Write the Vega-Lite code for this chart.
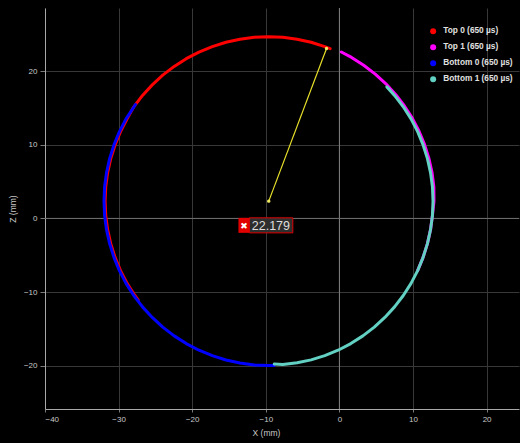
{
  "$schema": "https://vega.github.io/schema/vega-lite/v6.json",
  "width": 474,
  "height": 401,
  "autosize": {"type": "none"},
  "padding": {"left": 45, "top": 8, "right": 1, "bottom": 34},
  "background": "#000000",
  "datasets": {
    "pts": [
      {"s": "Top 0 (650 µs)", "a": 68, "x": -1.26, "y": 23.07},
      {"s": "Top 0 (650 µs)", "a": 70, "x": -1.99, "y": 23.35},
      {"s": "Top 0 (650 µs)", "a": 75, "x": -3.85, "y": 23.94},
      {"s": "Top 0 (650 µs)", "a": 80, "x": -5.75, "y": 24.36},
      {"s": "Top 0 (650 µs)", "a": 85, "x": -7.68, "y": 24.62},
      {"s": "Top 0 (650 µs)", "a": 90, "x": -9.63, "y": 24.70},
      {"s": "Top 0 (650 µs)", "a": 95, "x": -11.58, "y": 24.62},
      {"s": "Top 0 (650 µs)", "a": 100, "x": -13.51, "y": 24.36},
      {"s": "Top 0 (650 µs)", "a": 105, "x": -15.41, "y": 23.94},
      {"s": "Top 0 (650 µs)", "a": 110, "x": -17.27, "y": 23.35},
      {"s": "Top 0 (650 µs)", "a": 115, "x": -19.08, "y": 22.61},
      {"s": "Top 0 (650 µs)", "a": 120, "x": -20.81, "y": 21.71},
      {"s": "Top 0 (650 µs)", "a": 125, "x": -22.45, "y": 20.66},
      {"s": "Top 0 (650 µs)", "a": 130, "x": -24.00, "y": 19.47},
      {"s": "Top 0 (650 µs)", "a": 135, "x": -25.43, "y": 18.15},
      {"s": "Top 0 (650 µs)", "a": 140, "x": -26.75, "y": 16.72},
      {"s": "Top 0 (650 µs)", "a": 145, "x": -27.94, "y": 15.17},
      {"s": "Top 0 (650 µs)", "a": 150, "x": -28.84, "y": 13.53},
      {"s": "Top 0 (650 µs)", "a": 155, "x": -29.74, "y": 11.80},
      {"s": "Top 0 (650 µs)", "a": 160, "x": -30.48, "y": 9.99},
      {"s": "Top 0 (650 µs)", "a": 165, "x": -31.07, "y": 8.13},
      {"s": "Top 0 (650 µs)", "a": 170, "x": -31.49, "y": 6.23},
      {"s": "Top 0 (650 µs)", "a": 175, "x": -31.75, "y": 4.30},
      {"s": "Top 0 (650 µs)", "a": 180, "x": -31.83, "y": 2.35},
      {"s": "Top 0 (650 µs)", "a": 185, "x": -31.75, "y": 0.40},
      {"s": "Top 0 (650 µs)", "a": 190, "x": -31.49, "y": -1.53},
      {"s": "Top 0 (650 µs)", "a": 195, "x": -31.07, "y": -3.43},
      {"s": "Top 0 (650 µs)", "a": 200, "x": -30.48, "y": -5.29},
      {"s": "Top 0 (650 µs)", "a": 205, "x": -29.74, "y": -7.10},
      {"s": "Top 0 (650 µs)", "a": 210, "x": -28.84, "y": -8.83},
      {"s": "Top 0 (650 µs)", "a": 215, "x": -27.79, "y": -10.47},
      {"s": "Top 0 (650 µs)", "a": 217, "x": -27.33, "y": -11.10},
      {"s": "Top 1 (650 µs)", "a": 64, "x": 0.26, "y": 22.62},
      {"s": "Top 1 (650 µs)", "a": 60, "x": 1.65, "y": 21.88},
      {"s": "Top 1 (650 µs)", "a": 55, "x": 3.30, "y": 20.82},
      {"s": "Top 1 (650 µs)", "a": 50, "x": 4.87, "y": 19.62},
      {"s": "Top 1 (650 µs)", "a": 45, "x": 6.32, "y": 18.30},
      {"s": "Top 1 (650 µs)", "a": 40, "x": 7.64, "y": 16.85},
      {"s": "Top 1 (650 µs)", "a": 35, "x": 8.84, "y": 15.28},
      {"s": "Top 1 (650 µs)", "a": 30, "x": 9.90, "y": 13.63},
      {"s": "Top 1 (650 µs)", "a": 25, "x": 10.81, "y": 11.88},
      {"s": "Top 1 (650 µs)", "a": 20, "x": 11.56, "y": 10.06},
      {"s": "Top 1 (650 µs)", "a": 15, "x": 12.15, "y": 8.19},
      {"s": "Top 1 (650 µs)", "a": 10, "x": 12.58, "y": 6.27},
      {"s": "Top 1 (650 µs)", "a": 5, "x": 12.83, "y": 4.32},
      {"s": "Top 1 (650 µs)", "a": 0, "x": 12.85, "y": 2.35},
      {"s": "Top 1 (650 µs)", "a": -5, "x": 12.64, "y": 0.40},
      {"s": "Top 1 (650 µs)", "a": -10, "x": 12.38, "y": -1.53},
      {"s": "Top 1 (650 µs)", "a": -15, "x": 11.96, "y": -3.43},
      {"s": "Top 1 (650 µs)", "a": -20, "x": 11.37, "y": -5.29},
      {"s": "Top 1 (650 µs)", "a": -25, "x": 10.63, "y": -7.10},
      {"s": "Bottom 0 (650 µs)", "a": 144, "x": -27.71, "y": 15.49},
      {"s": "Bottom 0 (650 µs)", "a": 150, "x": -28.99, "y": 13.53},
      {"s": "Bottom 0 (650 µs)", "a": 155, "x": -29.89, "y": 11.80},
      {"s": "Bottom 0 (650 µs)", "a": 160, "x": -30.63, "y": 9.99},
      {"s": "Bottom 0 (650 µs)", "a": 165, "x": -31.22, "y": 8.13},
      {"s": "Bottom 0 (650 µs)", "a": 170, "x": -31.64, "y": 6.23},
      {"s": "Bottom 0 (650 µs)", "a": 175, "x": -31.90, "y": 4.30},
      {"s": "Bottom 0 (650 µs)", "a": 180, "x": -31.98, "y": 2.35},
      {"s": "Bottom 0 (650 µs)", "a": 185, "x": -31.90, "y": 0.40},
      {"s": "Bottom 0 (650 µs)", "a": 190, "x": -31.64, "y": -1.53},
      {"s": "Bottom 0 (650 µs)", "a": 195, "x": -31.22, "y": -3.43},
      {"s": "Bottom 0 (650 µs)", "a": 200, "x": -30.63, "y": -5.29},
      {"s": "Bottom 0 (650 µs)", "a": 205, "x": -29.89, "y": -7.10},
      {"s": "Bottom 0 (650 µs)", "a": 210, "x": -28.99, "y": -8.83},
      {"s": "Bottom 0 (650 µs)", "a": 215, "x": -27.94, "y": -10.47},
      {"s": "Bottom 0 (650 µs)", "a": 220, "x": -26.75, "y": -12.02},
      {"s": "Bottom 0 (650 µs)", "a": 225, "x": -25.43, "y": -13.45},
      {"s": "Bottom 0 (650 µs)", "a": 230, "x": -24.00, "y": -14.77},
      {"s": "Bottom 0 (650 µs)", "a": 235, "x": -22.45, "y": -15.96},
      {"s": "Bottom 0 (650 µs)", "a": 240, "x": -20.81, "y": -17.01},
      {"s": "Bottom 0 (650 µs)", "a": 245, "x": -19.08, "y": -17.91},
      {"s": "Bottom 0 (650 µs)", "a": 250, "x": -17.27, "y": -18.65},
      {"s": "Bottom 0 (650 µs)", "a": 255, "x": -15.41, "y": -19.24},
      {"s": "Bottom 0 (650 µs)", "a": 260, "x": -13.51, "y": -19.66},
      {"s": "Bottom 0 (650 µs)", "a": 265, "x": -11.58, "y": -19.92},
      {"s": "Bottom 0 (650 µs)", "a": 270, "x": -9.63, "y": -20.00},
      {"s": "Bottom 0 (650 µs)", "a": 272, "x": -8.85, "y": -19.99},
      {"s": "Bottom 1 (650 µs)", "a": -88, "x": -8.85, "y": -19.80},
      {"s": "Bottom 1 (650 µs)", "a": -85, "x": -7.68, "y": -19.85},
      {"s": "Bottom 1 (650 µs)", "a": -80, "x": -5.75, "y": -19.62},
      {"s": "Bottom 1 (650 µs)", "a": -75, "x": -3.85, "y": -19.22},
      {"s": "Bottom 1 (650 µs)", "a": -70, "x": -1.99, "y": -18.65},
      {"s": "Bottom 1 (650 µs)", "a": -65, "x": -0.18, "y": -17.91},
      {"s": "Bottom 1 (650 µs)", "a": -60, "x": 1.55, "y": -17.01},
      {"s": "Bottom 1 (650 µs)", "a": -55, "x": 3.19, "y": -15.96},
      {"s": "Bottom 1 (650 µs)", "a": -50, "x": 4.74, "y": -14.77},
      {"s": "Bottom 1 (650 µs)", "a": -45, "x": 6.17, "y": -13.45},
      {"s": "Bottom 1 (650 µs)", "a": -40, "x": 7.49, "y": -12.02},
      {"s": "Bottom 1 (650 µs)", "a": -35, "x": 8.68, "y": -10.47},
      {"s": "Bottom 1 (650 µs)", "a": -30, "x": 9.73, "y": -8.83},
      {"s": "Bottom 1 (650 µs)", "a": -25, "x": 10.63, "y": -7.10},
      {"s": "Bottom 1 (650 µs)", "a": -20, "x": 11.37, "y": -5.29},
      {"s": "Bottom 1 (650 µs)", "a": -15, "x": 11.96, "y": -3.43},
      {"s": "Bottom 1 (650 µs)", "a": -10, "x": 12.38, "y": -1.53},
      {"s": "Bottom 1 (650 µs)", "a": -5, "x": 12.64, "y": 0.40},
      {"s": "Bottom 1 (650 µs)", "a": 0, "x": 12.72, "y": 2.35},
      {"s": "Bottom 1 (650 µs)", "a": 5, "x": 12.64, "y": 4.30},
      {"s": "Bottom 1 (650 µs)", "a": 10, "x": 12.38, "y": 6.23},
      {"s": "Bottom 1 (650 µs)", "a": 15, "x": 11.96, "y": 8.13},
      {"s": "Bottom 1 (650 µs)", "a": 20, "x": 11.37, "y": 9.99},
      {"s": "Bottom 1 (650 µs)", "a": 25, "x": 10.63, "y": 11.80},
      {"s": "Bottom 1 (650 µs)", "a": 30, "x": 9.73, "y": 13.53},
      {"s": "Bottom 1 (650 µs)", "a": 35, "x": 8.68, "y": 15.17},
      {"s": "Bottom 1 (650 µs)", "a": 40, "x": 7.49, "y": 16.72},
      {"s": "Bottom 1 (650 µs)", "a": 44, "x": 6.45, "y": 17.88}
    ],
    "ray": [{"x": -9.6, "y": 2.35, "x2": -1.75, "y2": 23.1}],
    "ends": [{"x": -9.6, "y": 2.35}, {"x": -1.75, "y": 23.1}],
    "tag": [{"x": -13.72, "x2": -12.23, "xm": -12.97, "xd2": -6.33, "xt": -9.31, "y": 0.08, "y2": -1.96, "ym": -0.98, "icon": "✖", "val": "22.179"}],
    "zero": [{"v": 0}]
  },
  "layer": [
    {
      "data": {"name": "zero"},
      "mark": {"type": "rule", "color": "#808080", "strokeWidth": 1},
      "encoding": {
        "x": {"field": "v", "type": "quantitative",
          "scale": {"domain": [-40, 24.4], "nice": false, "zero": false},
          "axis": {"values": [-40, -30, -20, -10, 0, 10, 20], "title": "X (mm)", "tickSize": 3, "labelPadding": 3, "titlePadding": 5, "titleX": 221}
        }
      }
    },
    {
      "data": {"name": "zero"},
      "mark": {"type": "rule", "color": "#707070", "strokeWidth": 1},
      "encoding": {
        "y": {"field": "v", "type": "quantitative",
          "scale": {"domain": [-25.9, 28.6], "nice": false, "zero": false},
          "axis": {"values": [-20, -10, 0, 10, 20], "title": "Z (mm)", "tickSize": 5, "labelPadding": 3, "titlePadding": 6}
        }
      }
    },
    {
      "data": {"name": "pts"},
      "mark": {"type": "line", "strokeWidth": 3, "strokeCap": "round", "strokeJoin": "round"},
      "encoding": {
        "x": {"field": "x", "type": "quantitative"},
        "y": {"field": "y", "type": "quantitative"},
        "order": {"field": "a", "type": "quantitative"},
        "color": {
          "field": "s", "type": "nominal",
          "scale": {
            "domain": ["Top 0 (650 µs)", "Top 1 (650 µs)", "Bottom 0 (650 µs)", "Bottom 1 (650 µs)"],
            "range": ["#ff0000", "#ff00ff", "#0000ff", "#62d0c2"]
          },
          "legend": {
            "title": null,
            "orient": "none",
            "legendX": 384,
            "legendY": 19,
            "symbolType": "circle",
            "symbolSize": 36,
            "symbolStrokeWidth": 0,
            "labelFontSize": 8.3,
            "labelFontWeight": "bold",
            "labelColor": "#e0e0e0",
            "labelFont": "Liberation Sans",
            "labelOffset": 6,
            "rowPadding": 7,
            "padding": 0,
            "encode": {"symbols": {"update": {"fill": {"scale": "color", "field": "value"}, "fillOpacity": {"value": 1}}}}
          }
        }
      }
    },
    {
      "data": {"name": "ray"},
      "mark": {"type": "rule", "color": "#e6df2a", "strokeWidth": 1.2},
      "encoding": {
        "x": {"field": "x", "type": "quantitative"},
        "y": {"field": "y", "type": "quantitative"},
        "x2": {"field": "x2"},
        "y2": {"field": "y2"}
      }
    },
    {
      "data": {"name": "ends"},
      "mark": {"type": "point", "filled": true, "size": 12, "color": "#f0ea60", "opacity": 1},
      "encoding": {
        "x": {"field": "x", "type": "quantitative"},
        "y": {"field": "y", "type": "quantitative"}
      }
    },
    {
      "data": {"name": "tag"},
      "mark": {"type": "rect", "color": "#e00000"},
      "encoding": {
        "x": {"field": "x", "type": "quantitative"},
        "x2": {"field": "x2"},
        "y": {"field": "y", "type": "quantitative"},
        "y2": {"field": "y2"}
      }
    },
    {
      "data": {"name": "tag"},
      "mark": {"type": "rect", "fill": "#2e2e2e", "stroke": "#e00000", "strokeWidth": 1},
      "encoding": {
        "x": {"field": "x2", "type": "quantitative"},
        "x2": {"field": "xd2"},
        "y": {"field": "y", "type": "quantitative"},
        "y2": {"field": "y2"}
      }
    },
    {
      "data": {"name": "tag"},
      "mark": {"type": "text", "color": "#ffffff", "fontSize": 9, "font": "DejaVu Sans", "baseline": "middle", "align": "center"},
      "encoding": {
        "x": {"field": "xm", "type": "quantitative"},
        "y": {"field": "ym", "type": "quantitative"},
        "text": {"field": "icon"}
      }
    },
    {
      "data": {"name": "tag"},
      "mark": {"type": "text", "color": "#dddddd", "fontSize": 12.5, "font": "Liberation Sans", "baseline": "middle", "align": "center"},
      "encoding": {
        "x": {"field": "xt", "type": "quantitative"},
        "y": {"field": "ym", "type": "quantitative"},
        "text": {"field": "val"}
      }
    }
  ],
  "config": {
    "view": {"stroke": null},
    "axis": {
      "gridColor": "#383838",
      "gridWidth": 1,
      "domainColor": "#a8a8a8",
      "tickColor": "#7a7a7a",
      "labelColor": "#c8c8c8",
      "titleColor": "#c8c8c8",
      "labelFont": "Liberation Sans",
      "titleFont": "Liberation Sans",
      "labelFontSize": 8,
      "titleFontSize": 8.5,
      "titleFontWeight": "normal"
    }
  }
}
